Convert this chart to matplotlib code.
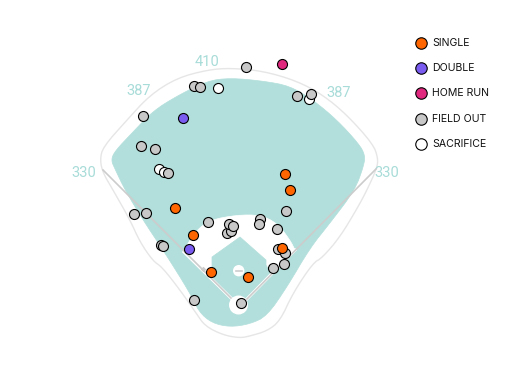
#!/usr/bin/env python3
import numpy as np
import matplotlib.pyplot as plt
from matplotlib.patches import Polygon, Circle

# everything in pixels (y down)
wall = [(230, 68), (207, 70), (177, 78), (150, 95), (127, 120), (103, 147), (100, 160), (103, 173),
        (113, 190), (130, 220), (140, 242), (153, 261), (162, 267), (180, 290), (196, 313), (205, 326),
        (223, 335), (240, 338), (250, 336), (267, 331), (280, 321), (293, 293), (313, 263), (322, 258),
        (340, 237), (358, 207), (367, 190), (377, 168), (378, 158), (373, 144), (347, 115), (323, 95),
        (297, 81), (263, 71)]
grass = [(230, 78), (207, 81), (177, 96), (153, 111), (132, 133), (115, 151), (111, 160), (115, 169),
         (125, 190), (143, 220), (165, 253), (190, 293), (199, 312), (212, 323), (230, 327), (250, 324),
         (267, 316), (287, 287), (310, 248), (330, 223), (355, 190), (364, 165), (365, 155), (359, 144),
         (337, 120), (313, 100), (290, 86), (263, 81)]
dirt_arc = [(184, 252), (188, 243), (197, 230), (210, 220), (237, 215), (260, 215), (277, 223),
            (290, 240), (295, 250)]
home_corner = [(240, 300)]
diamond = [(240, 237), (212, 257), (212, 267), (214, 280), (236, 302), (244, 302), (271, 274),
           (266, 265), (266, 260)]
foul_left = [(103, 170), (236, 303)]
foul_right = [(376, 169), (243, 303)]
base_left = [(184, 252), (236, 303)]
base_right = [(295, 250), (243, 303)]

hit_x = [194, 200, 218, 143, 183, 141, 155, 159, 164, 168, 246, 282, 297, 309, 311, 285, 290,
         175, 134, 146, 208, 193, 189, 161, 163, 211, 194, 241, 227, 231, 229, 233, 286, 260, 259,
         277, 278, 285, 282, 284, 273, 248]
hit_y = [86, 87, 88, 116, 118, 146, 149, 169, 172, 173, 67, 64, 96, 99, 94, 174, 190,
         208, 214, 213, 222, 235, 249, 245, 246, 272, 300, 303, 233, 231, 224, 226, 211, 219, 224,
         229, 249, 253, 248, 264, 268, 277]
hit_type = ['out', 'out', 'sac', 'out', 'double', 'out', 'out', 'sac', 'sac', 'out', 'out', 'hr', 'out', 'sac', 'out', 'single', 'single',
            'single', 'out', 'out', 'out', 'single', 'double', 'out', 'out', 'single', 'out', 'out', 'out', 'out', 'out', 'out', 'out', 'out', 'out',
            'out', 'out', 'out', 'single', 'out', 'out', 'single']

legend_types = ['single', 'double', 'hr', 'out', 'sac']
legend_labels = ['SINGLE', 'DOUBLE', 'HOME RUN', 'FIELD OUT', 'SACRIFICE']
legend_y = [43, 68, 93, 119, 144]
colors = {'single': '#ff6600', 'double': '#7b5cf0', 'hr': '#e0287f', 'out': '#c8c8c8', 'sac': '#ffffff'}

dist_labels = ['410', '387', '387', '330', '330']
dist_x = [207, 139, 339, 84, 387]
dist_y = [62, 91, 93, 173, 173]


def smooth(points, closed=True, rounds=2):
    # corner cutting so the outlines do not look faceted
    pts = np.array(points, dtype=float)
    for _ in range(rounds):
        nxt = np.roll(pts, -1, axis=0) if closed else pts[1:]
        cur = pts if closed else pts[:-1]
        cut = np.empty((len(cur) * 2, 2))
        cut[0::2] = 0.75 * cur + 0.25 * nxt
        cut[1::2] = 0.25 * cur + 0.75 * nxt
        pts = cut if closed else np.vstack([points[0], cut, points[-1]])
    return pts


fig = plt.figure(figsize=(5.18, 3.85), dpi=100)
ax = fig.add_axes([0, 0, 1, 1])
ax.set_xlim(0, 518)
ax.set_ylim(385, 0)
ax.axis('off')

teal = '#b2dfdb'
ax.add_patch(Polygon(smooth(wall), closed=True, fc='white', ec='#e6e6e6', lw=1.0, zorder=1))
ax.add_patch(Polygon(smooth(grass), closed=True, fc=teal, ec=teal, lw=0.5, zorder=2))
dirt = np.vstack([smooth(dirt_arc, closed=False), home_corner])
ax.add_patch(Polygon(dirt, closed=True, fc='white', ec='white', lw=0.5, zorder=3))
ax.add_patch(Polygon(diamond, closed=True, fc=teal, ec=teal, lw=0.5, joinstyle='round', zorder=4))

for line in (base_left, base_right):
    xs, ys = zip(*line)
    ax.plot(xs, ys, color='white', lw=2.2, zorder=5)
for line in (foul_left, foul_right):
    xs, ys = zip(*line)
    ax.plot(xs, ys, color='#cccccc', lw=1.2, zorder=5)

ax.add_patch(Circle((238.5, 305), 9.5, fc='white', ec='none', zorder=6))
ax.add_patch(Circle((238.7, 270.7), 5.7, fc='white', ec='none', zorder=6))
ax.plot([236, 242], [271, 271], color='#cccccc', lw=1.2, zorder=7)
ax.scatter([203], [269], s=8, color='#cccccc', marker='D', linewidths=0, zorder=7)

# hits, one at a time so overlaps keep their order
for i in range(len(hit_x)):
    ax.scatter(hit_x[i], hit_y[i], s=52, color=colors[hit_type[i]], edgecolors='black',
               linewidths=0.8, zorder=10 + i * 0.01)

for t, x, y in zip(dist_labels, dist_x, dist_y):
    ax.text(x, y, t, color='#a8dcd8', fontsize=10.5, family='Roboto', ha='center', va='center')

for kind, label, y in zip(legend_types, legend_labels, legend_y):
    ax.scatter(421, y, s=68, color=colors[kind], edgecolors='black', linewidths=0.8, zorder=10)
    ax.text(432, y, label, color='#111111', fontsize=7.6, family='Inter', ha='left', va='center')

fig.savefig('out.png', dpi=100)
